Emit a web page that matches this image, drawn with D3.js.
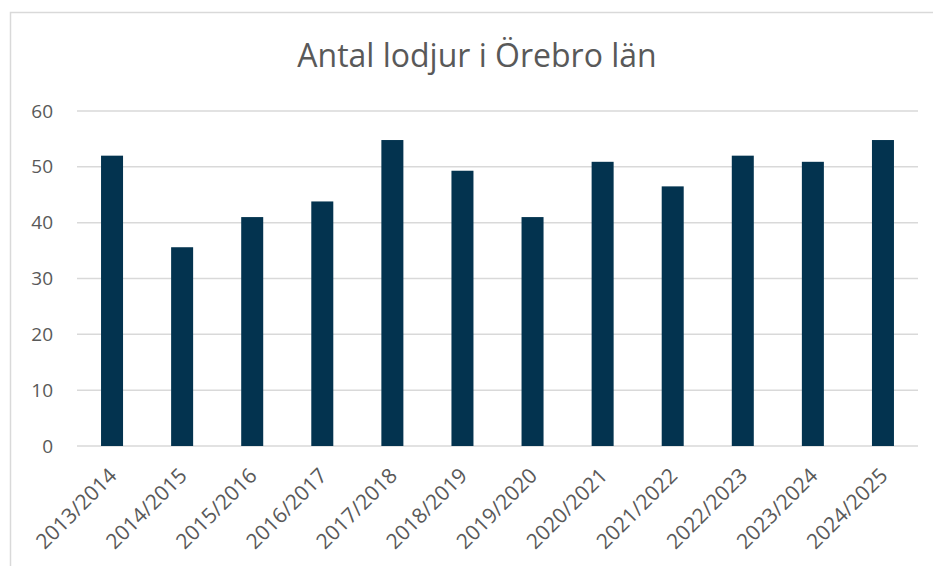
<!DOCTYPE html>
<html>
<head>
<meta charset="utf-8">
<script src="https://cdn.jsdelivr.net/npm/d3@7"></script>
<style>
  body { margin: 0; background: #fff; }
  svg text { font-family: "Open Sans", "Liberation Sans", sans-serif; fill: #595959; }
</style>
</head>
<body>
<div id="chart"></div>
<script>
// seasons and number of lynx
var seasons = ["2013/2014", "2014/2015", "2015/2016", "2016/2017", "2017/2018", "2018/2019",
    "2019/2020", "2020/2021", "2021/2022", "2022/2023", "2023/2024", "2024/2025"];
var lynxCount = [52, 35.6, 41, 43.8, 54.8, 49.3, 41, 50.9, 46.5, 52, 50.9, 54.8];
var yTicks = [0, 10, 20, 30, 40, 50, 60];
var chartTitle = "Antal lodjur i Örebro län";

var width = 933, height = 566;
var plotLeft = 77, plotRight = 918, plotTop = 111, plotBottom = 446;

var svg = d3.select("#chart").append("svg")
    .attr("width", width)
    .attr("height", height);

// outer frame (only top and left edges visible)
svg.append("path")
    .attr("d", "M10.5 " + height + " L10.5 12.5 L" + width + " 12.5")
    .attr("fill", "none")
    .attr("stroke", "#d9d9d9")
    .attr("stroke-width", 1.5);

svg.append("text")
    .attr("x", 477)
    .attr("y", 67)
    .attr("text-anchor", "middle")
    .style("font-size", "32px")
    .text(chartTitle);

var x = d3.scaleBand()
    .domain(seasons)
    .range([plotLeft, plotRight])
    .paddingInner(0.686)
    .paddingOuter(0.343);

var y = d3.scaleLinear()
    .domain([0, 60])
    .range([plotBottom, plotTop]);

// gridlines
svg.append("g")
    .selectAll("line")
    .data(yTicks)
    .enter().append("line")
    .attr("x1", plotLeft)
    .attr("x2", plotRight)
    .attr("y1", function (d) { return y(d); })
    .attr("y2", function (d) { return y(d); })
    .attr("stroke", "#d9d9d9")
    .attr("stroke-width", 1.5);

// y labels
var yAxis = svg.append("g")
    .attr("transform", "translate(" + 53 + ",0)")
    .call(d3.axisLeft(y).tickValues(yTicks).tickSize(0).tickPadding(0));
yAxis.select(".domain").remove();
yAxis.selectAll("text")
    .attr("fill", "#595959")
    .style("font-size", "19px")
    .style("font-family", "\"Open Sans\", sans-serif");

// bars
svg.append("g")
    .selectAll("rect")
    .data(lynxCount)
    .enter().append("rect")
    .attr("x", function (d, i) { return x(seasons[i]); })
    .attr("width", x.bandwidth())
    .attr("y", function (d) { return y(d); })
    .attr("height", function (d) { return y(0) - y(d); })
    .attr("fill", "#03334f");

// rotated season labels
svg.append("g")
    .selectAll("text")
    .data(seasons)
    .enter().append("text")
    .attr("transform", function (d) {
        return "translate(" + (x(d) + x.bandwidth() / 2 + 6) + "," + 477 + ") rotate(-45)";
    })
    .attr("text-anchor", "end")
    .style("font-size", "21px")
    .text(function (d) { return d; });
</script>
</body>
</html>
